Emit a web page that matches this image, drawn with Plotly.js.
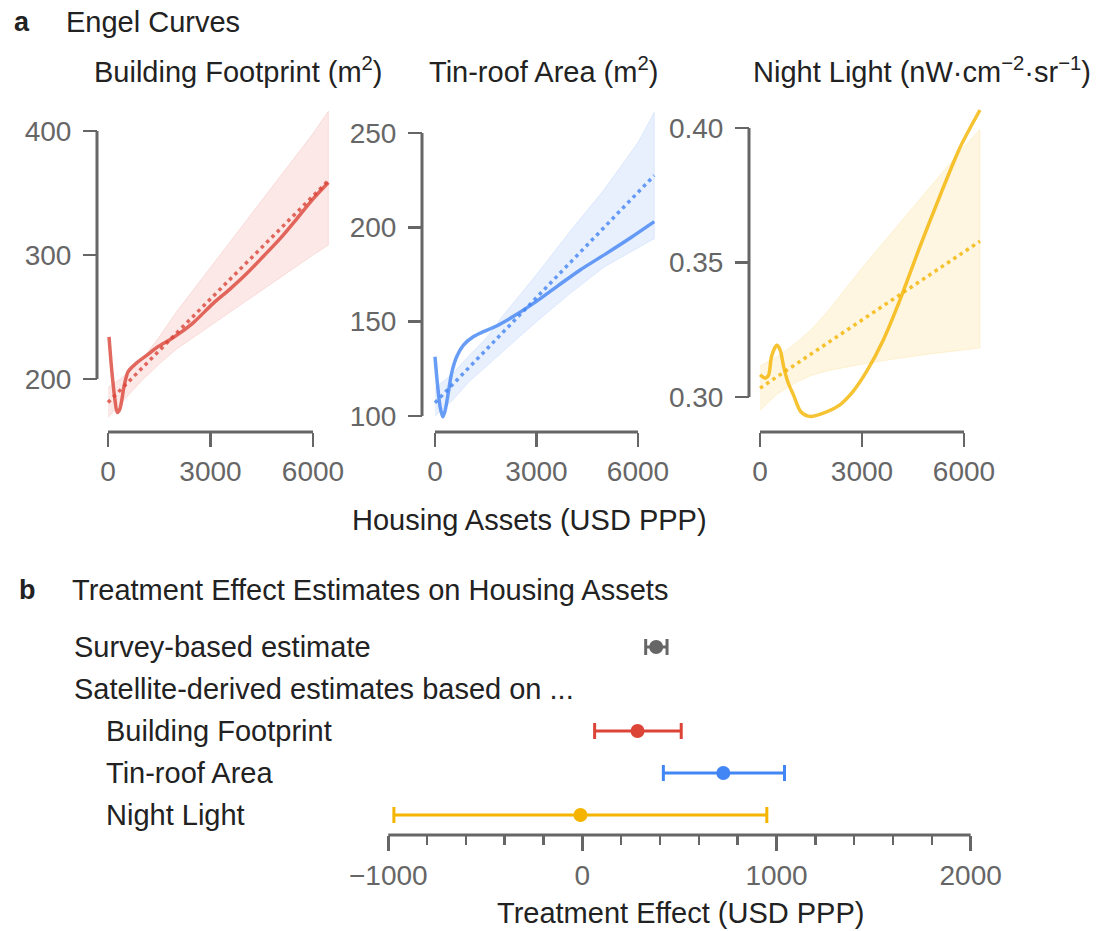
<!DOCTYPE html>
<html>
<head>
<meta charset="utf-8">
<script src="https://cdn.plot.ly/plotly-3.0.1.min.js"></script>
<style>html,body{margin:0;padding:0;background:#fff;}</style>
</head>
<body>
<div id="chart" style="width:1096px;height:931px;"></div>
<script>
// ---------------- DATA ----------------
// Panel a: Engel curves, x = Housing Assets (USD PPP)
// Building footprint (m2)
const bfCurveX = [30, 100, 200, 270, 350, 470, 590, 840, 1130, 1460, 1800, 2100, 2500, 3080, 3570, 4060, 4550, 5030, 5520, 6010, 6450];
const bfCurveY = [234, 210, 184, 173, 176, 194, 206, 213, 219, 226, 231.5, 237, 245.5, 261, 272.5, 285, 299, 313, 329, 345.5, 358.5];
const bfLinX = [0, 2220, 6450];
const bfLinY = [181, 243, 360];
const bfBandX = [0, 500, 1000, 1500, 2000, 3000, 4000, 5000, 6000, 6450];
const bfBandLo = [169, 184, 199, 212, 224, 243, 262, 281, 300, 308];
const bfBandHi = [193, 203, 216, 234, 254, 290, 326, 362, 398, 416];

// Tin-roof area (m2)
const tnCurveX = [0, 70, 150, 230, 300, 390, 490, 640, 840, 1130, 1430, 1820, 2310, 2910, 3600, 4290, 5070, 5760, 6480];
const tnCurveY = [131.4, 117.3, 105, 99.6, 103, 112, 122.6, 131.4, 137.6, 142, 144.7, 147.7, 152.7, 159.7, 168.6, 177.4, 186.2, 194.2, 203];
const tnLinX = [0, 3000, 6480];
const tnLinY = [107, 163, 227.5];
const tnBandX = [0, 500, 1000, 1500, 2000, 3000, 4000, 5000, 6000, 6480];
const tnBandLo = [100, 108, 118, 126, 134, 150, 165, 179, 189, 194];
const tnBandHi = [115, 122, 132, 141, 153, 175, 198, 220, 245, 261];

// Night light (nW cm-2 sr-1)
const nlCurveX = [0, 150, 250, 340, 490, 590, 700, 830, 980, 1200, 1450, 1960, 2350, 2720, 3140, 3630, 4120, 4710, 5290, 5880, 6470];
const nlCurveY = [0.3083, 0.3070, 0.3080, 0.3151, 0.3192, 0.3176, 0.3110, 0.3052, 0.3009, 0.2945, 0.2928, 0.2945, 0.2971, 0.3018, 0.3096, 0.3213, 0.3362, 0.3561, 0.3747, 0.3927, 0.4067];
const nlLinX = [0, 3000, 6470];
const nlLinY = [0.3033, 0.3287, 0.3579];
const nlBandX = [0, 500, 1000, 1500, 2000, 3000, 4000, 5000, 6000, 6470];
const nlBandLo = [0.2950, 0.3010, 0.3050, 0.3080, 0.3098, 0.3122, 0.3142, 0.3160, 0.3175, 0.3182];
const nlBandHi = [0.3115, 0.3150, 0.3195, 0.3250, 0.3320, 0.3480, 0.3630, 0.3780, 0.3930, 0.3995];

const engelXTicks = [0, 3000, 6000];
const bfYTicks = [200, 300, 400];
const tnYTicks = [100, 150, 200, 250];
const nlYTicks = [0.30, 0.35, 0.40];
const nlYTickText = ['0.30', '0.35', '0.40'];

// Panel b: treatment effect estimates (USD PPP)
const rowLabels = ['Survey-based estimate', 'Satellite-derived estimates based on ...', 'Building Footprint', 'Tin-roof Area', 'Night Light'];
const effLabels = ['Survey-based estimate', 'Building Footprint', 'Tin-roof Area', 'Night Light'];
const effEst = [380, 284, 726, -10];
const effLo = [326, 63, 417, -971];
const effHi = [436, 509, 1041, 950];
const effXTicks = [-1000, 0, 1000, 2000];
const effXTickText = ['\u22121000', '0', '1000', '2000'];

// ---------------- STYLE / LAYOUT ----------------
const W = 1096, H = 931;
const FONT = 'Liberation Sans, Arial, Helvetica, sans-serif';
const AX = '#666666';
const TXT = '#222222';
const RED = [219, 68, 55], BLUE = [66, 133, 244], YEL = [244, 180, 0];
const rgba = (c, a) => `rgba(${c[0]},${c[1]},${c[2]},${a})`;

// pixel calibrations -> domains
function xdom(px0, k, r) { return [(px0 + r[0] * k) / W, (px0 + r[1] * k) / W]; }
function ydom(py0, v0, k, r) { return [1 - (py0 - (r[0] - v0) * k) / H, 1 - (py0 - (r[1] - v0) * k) / H]; }

const xr = [-300, 6700];
const p1 = { xr: xr, xd: xdom(108, 205 / 6000, xr), yr: [164, 420], yd: ydom(379, 200, 1.24, [164, 420]), spineX: 97 };
const p2 = { xr: xr, xd: xdom(435, 203 / 6000, xr), yr: [96, 265], yd: ydom(416, 100, 283 / 150, [96, 265]), spineX: 422 };
const p3 = { xr: xr, xd: xdom(760, 204 / 6000, xr), yr: [0.288, 0.41], yd: ydom(397, 0.30, 2690, [0.288, 0.41]), spineX: 749 };
const xSpineY = 432;
const fr = [-1100, 2100];
const fxd = xdom(582.4, 0.19413, fr);
const fyr = [4.5, -0.6];
const fyd = [1 - (647 + 4.5 * 42) / H, 1 - (647 - 0.6 * 42) / H];
const fSpineY = 835;

function bandTrace(x, lo, hi, col, xa, ya) {
  return {
    x: x.concat(x.slice().reverse()),
    y: hi.concat(lo.slice().reverse()),
    xaxis: xa, yaxis: ya, type: 'scatter', mode: 'lines', fill: 'toself',
    fillcolor: rgba(col, 0.12), line: { color: rgba(col, 0.12), width: 1 }, hoverinfo: 'skip'
  };
}
function curveTrace(x, y, col, xa, ya) {
  return { x: x, y: y, xaxis: xa, yaxis: ya, type: 'scatter', mode: 'lines',
    line: { color: rgba(col, 0.8), width: 3.5, shape: 'spline', smoothing: 0.8 } };
}
function linTrace(x, y, col, xa, ya) {
  return { x: x, y: y, xaxis: xa, yaxis: ya, type: 'scatter', mode: 'lines',
    line: { color: rgba(col, 0.8), width: 3.5, dash: '3.5px,4px' } };
}

const traces = [
  bandTrace(bfBandX, bfBandLo, bfBandHi, RED, 'x', 'y'),
  linTrace(bfLinX, bfLinY, RED, 'x', 'y'),
  curveTrace(bfCurveX, bfCurveY, RED, 'x', 'y'),
  bandTrace(tnBandX, tnBandLo, tnBandHi, BLUE, 'x2', 'y2'),
  linTrace(tnLinX, tnLinY, BLUE, 'x2', 'y2'),
  curveTrace(tnCurveX, tnCurveY, BLUE, 'x2', 'y2'),
  bandTrace(nlBandX, nlBandLo, nlBandHi, YEL, 'x3', 'y3'),
  linTrace(nlLinX, nlLinY, YEL, 'x3', 'y3'),
  curveTrace(nlCurveX, nlCurveY, YEL, 'x3', 'y3')
];

const effColors = ['#666666', rgba(RED, 1), rgba(BLUE, 1), rgba(YEL, 1)];
effLabels.forEach((lab, i) => {
  traces.push({
    x: [effEst[i]], y: [lab], xaxis: 'x4', yaxis: 'y4', type: 'scatter', mode: 'markers',
    marker: { color: effColors[i], size: 14 },
    error_x: { type: 'data', symmetric: false, array: [effHi[i] - effEst[i]], arrayminus: [effEst[i] - effLo[i]],
      color: effColors[i], thickness: 3, width: 8 }
  });
});

function xAxis(p, pos, tv) {
  return { domain: p.xd, range: p.xr, anchor: 'free', position: 1 - pos / H, tickvals: tv,
    ticks: 'outside', ticklen: 14, tickwidth: 2.5, tickcolor: AX, showline: false, showgrid: false, zeroline: false,
    tickfont: { family: FONT, size: 28, color: AX }, fixedrange: true };
}
function yAxis(p, tv, tt) {
  const a = { domain: p.yd, range: p.yr, anchor: 'free', position: p.spineX / W, tickvals: tv,
    ticks: 'outside', ticklen: 14, tickwidth: 2.5, tickcolor: AX, showline: false, showgrid: false, zeroline: false,
    ticklabelstandoff: 6,
    tickfont: { family: FONT, size: 28, color: AX }, fixedrange: true };
  if (tt) a.ticktext = tt;
  return a;
}

const shapes = [];
function spines(p, xa, ya, xt, yt) {
  shapes.push({ type: 'line', xref: xa, yref: 'paper', x0: xt[0], x1: xt[xt.length - 1],
    y0: 1 - xSpineY / H, y1: 1 - xSpineY / H, line: { color: AX, width: 3 } });
  shapes.push({ type: 'line', xref: 'paper', yref: ya, x0: p.spineX / W, x1: p.spineX / W,
    y0: yt[0], y1: yt[yt.length - 1], line: { color: AX, width: 3 } });
}
spines(p1, 'x', 'y', engelXTicks, bfYTicks);
spines(p2, 'x2', 'y2', engelXTicks, tnYTicks);
spines(p3, 'x3', 'y3', engelXTicks, nlYTicks);
shapes.push({ type: 'line', xref: 'x4', yref: 'paper', x0: effXTicks[0], x1: effXTicks[effXTicks.length - 1],
  y0: 1 - fSpineY / H, y1: 1 - fSpineY / H, line: { color: AX, width: 3 } });

function ann(text, xpx, ypx, opts) {
  return Object.assign({ text: text, x: xpx / W, y: 1 - ypx / H, xref: 'paper', yref: 'paper',
    showarrow: false, xanchor: 'left', yanchor: 'middle', font: { family: FONT, size: 29, color: TXT } }, opts || {});
}

const annotations = [
  ann('<b>a</b>', 12, 22, { font: { family: FONT, size: 27, color: TXT } }),
  ann('Engel Curves', 64, 22),
  ann('Building Footprint (m<sup>2</sup>)', 238, 70, { xanchor: 'center' }),
  ann('Tin-roof Area (m<sup>2</sup>)', 543, 70, { xanchor: 'center' }),
  ann('Night Light (nW\u00B7cm<sup>\u22122</sup>\u00B7sr<sup>\u22121</sup>)', 922, 70, { xanchor: 'center' }),
  ann('Housing Assets (USD PPP)', 529, 520, { xanchor: 'center' }),
  ann('<b>b</b>', 17, 590, { font: { family: FONT, size: 27, color: TXT } }),
  ann('Treatment Effect Estimates on Housing Assets', 70, 590),
  ann('Treatment Effect (USD PPP)', 680, 913, { xanchor: 'center' })
];
const indent = [72, 72, 104, 104, 104];
rowLabels.forEach((lab, i) => {
  annotations.push({ text: lab, xref: 'paper', yref: 'y4', x: indent[i] / W, y: i, showarrow: false,
    xanchor: 'left', yanchor: 'middle', font: { family: FONT, size: 29, color: TXT } });
});

const layout = {
  width: W, height: H, margin: { l: 0, r: 0, t: 0, b: 0 },
  paper_bgcolor: '#ffffff', plot_bgcolor: 'rgba(0,0,0,0)', showlegend: false,
  font: { family: FONT, color: TXT },
  xaxis: xAxis(p1, xSpineY, engelXTicks),
  yaxis: yAxis(p1, bfYTicks),
  xaxis2: xAxis(p2, xSpineY, engelXTicks),
  yaxis2: yAxis(p2, tnYTicks),
  xaxis3: xAxis(p3, xSpineY, engelXTicks),
  yaxis3: yAxis(p3, nlYTicks, nlYTickText),
  xaxis4: { domain: fxd, range: fr, anchor: 'free', position: 1 - fSpineY / H, tickvals: effXTicks, ticktext: effXTickText,
    ticks: 'outside', ticklen: 15, tickwidth: 2.5, tickcolor: AX, showline: false, showgrid: false, zeroline: false,
    tickfont: { family: FONT, size: 28, color: AX }, fixedrange: true,
    minor: { dtick: 200, tick0: 0, ticks: 'outside', ticklen: 9, tickwidth: 2.5, tickcolor: AX, showgrid: false } },
  yaxis4: { domain: fyd, range: fyr, type: 'category', categoryarray: rowLabels, categoryorder: 'array',
    visible: false, fixedrange: true },
  shapes: shapes,
  annotations: annotations
};

Plotly.newPlot('chart', traces, layout, { displayModeBar: false, staticPlot: true });
</script>
</body>
</html>
